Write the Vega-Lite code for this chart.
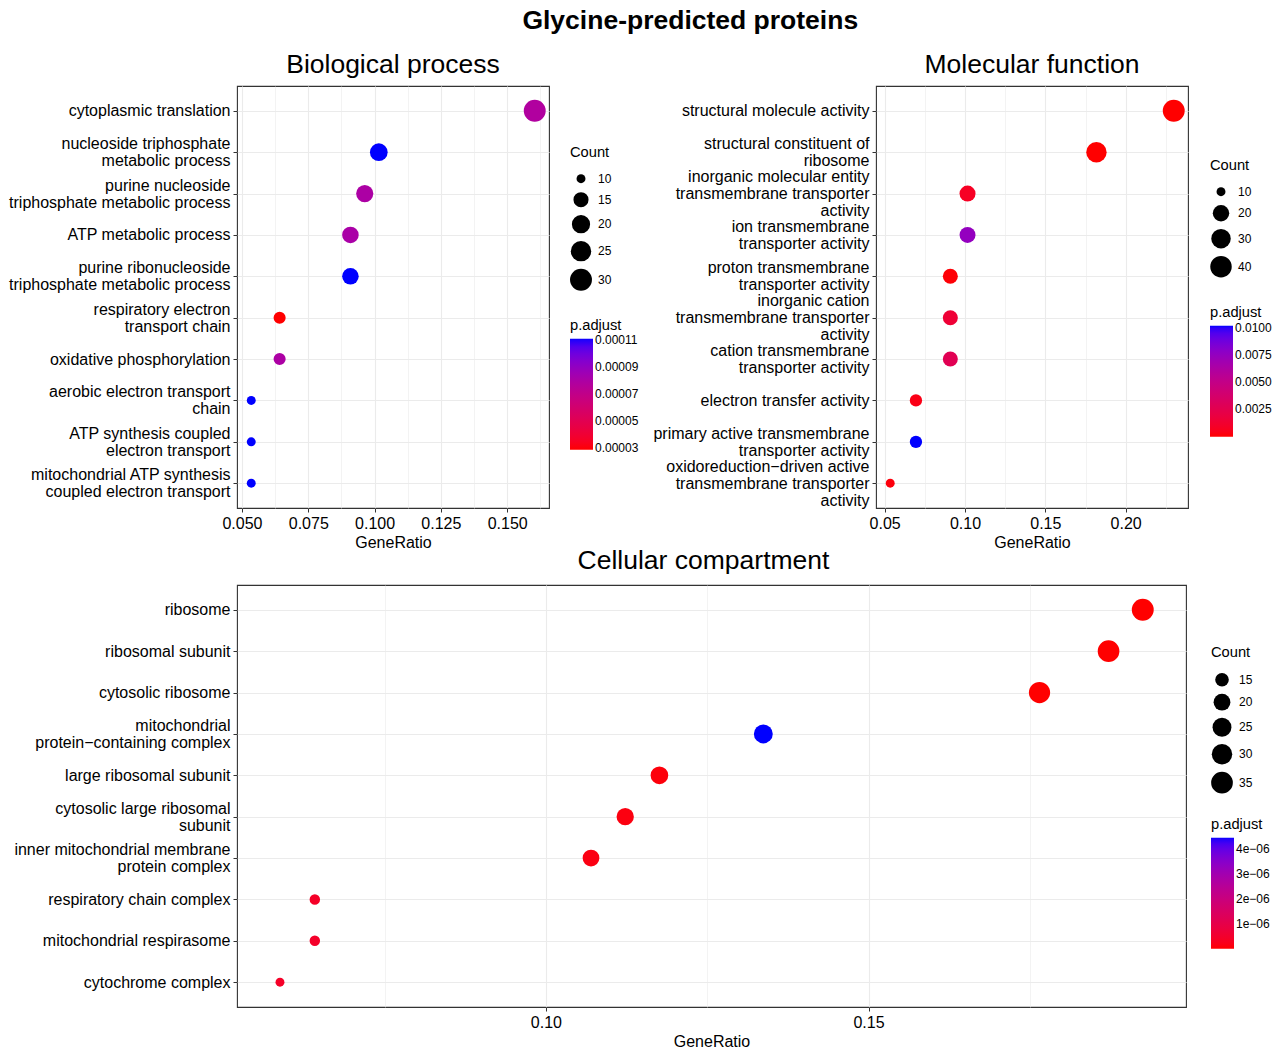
{
  "$schema": "https://vega.github.io/schema/vega-lite/v6.json",
  "title": {"text": "Glycine-predicted proteins", "fontSize": 26.5, "fontWeight": "bold", "anchor": "middle", "dx": 50, "offset": 16},
  "padding": {"left": 7, "top": 8, "right": 0, "bottom": 0},
  "datasets": {
    "bp": [
      {"Description": "cytoplasmic translation", "GeneRatio": 0.1604, "Count": 30, "padj": 0.000078},
      {"Description": "nucleoside triphosphate\nmetabolic process", "GeneRatio": 0.1016, "Count": 19, "padj": 0.000111},
      {"Description": "purine nucleoside\ntriphosphate metabolic process", "GeneRatio": 0.0963, "Count": 18, "padj": 0.00008},
      {"Description": "ATP metabolic process", "GeneRatio": 0.0909, "Count": 17, "padj": 0.000081},
      {"Description": "purine ribonucleoside\ntriphosphate metabolic process", "GeneRatio": 0.0909, "Count": 17, "padj": 0.000111},
      {"Description": "respiratory electron\ntransport chain", "GeneRatio": 0.0642, "Count": 12, "padj": 0.0000288},
      {"Description": "oxidative phosphorylation", "GeneRatio": 0.0642, "Count": 12, "padj": 0.00008},
      {"Description": "aerobic electron transport\nchain", "GeneRatio": 0.0535, "Count": 10, "padj": 0.000111},
      {"Description": "ATP synthesis coupled\nelectron transport", "GeneRatio": 0.0535, "Count": 10, "padj": 0.000111},
      {"Description": "mitochondrial ATP synthesis\ncoupled electron transport", "GeneRatio": 0.0535, "Count": 10, "padj": 0.000111}
    ],
    "mf": [
      {"Description": "structural molecule activity", "GeneRatio": 0.2299, "Count": 43, "padj": 0.0000001},
      {"Description": "structural constituent of\nribosome", "GeneRatio": 0.1818, "Count": 34, "padj": 0.0000001},
      {"Description": "inorganic molecular entity\ntransmembrane transporter\nactivity", "GeneRatio": 0.1016, "Count": 19, "padj": 0.0008},
      {"Description": "ion transmembrane\ntransporter activity", "GeneRatio": 0.1016, "Count": 19, "padj": 0.0075},
      {"Description": "proton transmembrane\ntransporter activity", "GeneRatio": 0.0909, "Count": 17, "padj": 0.0001},
      {"Description": "inorganic cation\ntransmembrane transporter\nactivity", "GeneRatio": 0.0909, "Count": 17, "padj": 0.0015},
      {"Description": "cation transmembrane\ntransporter activity", "GeneRatio": 0.0909, "Count": 17, "padj": 0.0027},
      {"Description": "electron transfer activity", "GeneRatio": 0.0695, "Count": 13, "padj": 0.0004},
      {"Description": "primary active transmembrane\ntransporter activity", "GeneRatio": 0.0695, "Count": 13, "padj": 0.0102},
      {"Description": "oxidoreduction−driven active\ntransmembrane transporter\nactivity", "GeneRatio": 0.0535, "Count": 10, "padj": 0.0002}
    ],
    "cc": [
      {"Description": "ribosome", "GeneRatio": 0.1925, "Count": 36, "padj": 0.000000001},
      {"Description": "ribosomal subunit", "GeneRatio": 0.1872, "Count": 35, "padj": 0.000000001},
      {"Description": "cytosolic ribosome", "GeneRatio": 0.1765, "Count": 33, "padj": 0.000000002},
      {"Description": "mitochondrial\nprotein−containing complex", "GeneRatio": 0.1337, "Count": 25, "padj": 0.00000445},
      {"Description": "large ribosomal subunit", "GeneRatio": 0.1176, "Count": 22, "padj": 0.00000008},
      {"Description": "cytosolic large ribosomal\nsubunit", "GeneRatio": 0.1123, "Count": 21, "padj": 0.00000012},
      {"Description": "inner mitochondrial membrane\nprotein complex", "GeneRatio": 0.107, "Count": 20, "padj": 0.00000015},
      {"Description": "respiratory chain complex", "GeneRatio": 0.0642, "Count": 12, "padj": 0.0000004},
      {"Description": "mitochondrial respirasome", "GeneRatio": 0.0642, "Count": 12, "padj": 0.00000045},
      {"Description": "cytochrome complex", "GeneRatio": 0.0588, "Count": 11, "padj": 0.00000042}
    ]
  },
  "vconcat": [
    {
      "hconcat": [
        {
          "title": {"text": "Biological process"},
          "width": 312, "height": 422,
          "data": {"name": "bp"},
          "mark": {"type": "circle", "opacity": 1},
          "encoding": {
            "x": {"field": "GeneRatio", "type": "quantitative",
              "scale": {"domain": [0.04813, 0.16578], "nice": false, "zero": false},
              "axis": {"title": "GeneRatio",
                "values": [0.05, 0.0625, 0.075, 0.0875, 0.1, 0.1125, 0.125, 0.1375, 0.15, 0.1625],
                "labelExpr": "abs(datum.value*40 - round(datum.value*40)) < 0.001 ? format(datum.value, '.3f') : ''",
                "tickOpacity": {"condition": {"test": "abs(datum.value*40 - round(datum.value*40)) < 0.001", "value": 1}, "value": 0},
                "gridWidth": {"condition": {"test": "abs(datum.value*40 - round(datum.value*40)) < 0.001", "value": 1.1}, "value": 0.6}}},
            "y": {"field": "Description", "type": "nominal", "sort": null,
              "scale": {"type": "point", "padding": 0.6},
              "axis": {"title": null, "labelExpr": "split(datum.value, '\\n')", "minExtent": 227, "maxExtent": 227,
                "labelOffset": {"condition": [{"test": "length(split(datum.value, '\\n')) == 3", "value": -17}, {"test": "length(split(datum.value, '\\n')) == 2", "value": -8.5}], "value": 0}}},
            "size": {"field": "Count", "type": "quantitative",
              "scale": {"type": "log", "domain": [10, 30], "range": [80, 480]},
              "legend": {"title": "Count", "values": [10, 15, 20, 25, 30], "orient": "none", "legendX": 333, "legendY": 59, "titlePadding": 13}},
            "color": {"field": "padj", "type": "quantitative",
              "scale": {"range": ["#FF0000", "#0000FF"], "interpolate": "lab", "nice": false, "zero": false, "domain": [0.0000288, 0.000111]},
              "legend": {"title": "p.adjust", "values": [0.00003, 0.00005, 0.00007, 0.00009, 0.00011], "format": ".5f", "orient": "none", "legendX": 333, "legendY": 232}}
          }
        },
        {
          "title": {"text": "Molecular function"},
          "width": 312, "height": 422,
          "data": {"name": "mf"},
          "mark": {"type": "circle", "opacity": 1},
          "encoding": {
            "x": {"field": "GeneRatio", "type": "quantitative",
              "scale": {"domain": [0.04465, 0.23877], "nice": false, "zero": false},
              "axis": {"title": "GeneRatio",
                "values": [0.05, 0.075, 0.1, 0.125, 0.15, 0.175, 0.2, 0.225],
                "labelExpr": "abs(datum.value*20 - round(datum.value*20)) < 0.001 ? format(datum.value, '.2f') : ''",
                "tickOpacity": {"condition": {"test": "abs(datum.value*20 - round(datum.value*20)) < 0.001", "value": 1}, "value": 0},
                "gridWidth": {"condition": {"test": "abs(datum.value*20 - round(datum.value*20)) < 0.001", "value": 1.1}, "value": 0.6}}},
            "y": {"field": "Description", "type": "nominal", "sort": null,
              "scale": {"type": "point", "padding": 0.6},
              "axis": {"title": null, "labelExpr": "split(datum.value, '\\n')", "minExtent": 222, "maxExtent": 222,
                "labelOffset": {"condition": [{"test": "length(split(datum.value, '\\n')) == 3", "value": -17}, {"test": "length(split(datum.value, '\\n')) == 2", "value": -8.5}], "value": 0}}},
            "size": {"field": "Count", "type": "quantitative",
              "scale": {"type": "log", "domain": [10, 43], "range": [80, 480]},
              "legend": {"title": "Count", "values": [10, 20, 30, 40], "orient": "none", "legendX": 334, "legendY": 72, "titlePadding": 13}},
            "color": {"field": "padj", "type": "quantitative",
              "scale": {"range": ["#FF0000", "#0000FF"], "interpolate": "lab", "nice": false, "zero": false, "domain": [0, 0.0102]},
              "legend": {"title": "p.adjust", "values": [0.0025, 0.005, 0.0075, 0.01], "format": ".4f", "orient": "none", "legendX": 334, "legendY": 219}}
          }
        }
      ],
      "spacing": 12,
      "resolve": {"scale": {"color": "independent", "size": "independent", "x": "independent", "y": "independent"}, "legend": {"color": "independent", "size": "independent"}}
    },
    {
      "title": {"text": "Cellular compartment", "dx": -8, "offset": 11},
      "width": 949, "height": 422,
      "data": {"name": "cc"},
      "mark": {"type": "circle", "opacity": 1},
      "encoding": {
        "x": {"field": "GeneRatio", "type": "quantitative",
          "scale": {"domain": [0.05214, 0.1992], "nice": false, "zero": false},
          "axis": {"title": "GeneRatio",
            "values": [0.075, 0.1, 0.125, 0.15, 0.175],
            "labelExpr": "abs(datum.value*20 - round(datum.value*20)) < 0.001 ? format(datum.value, '.2f') : ''",
            "tickOpacity": {"condition": {"test": "abs(datum.value*20 - round(datum.value*20)) < 0.001", "value": 1}, "value": 0},
            "gridWidth": {"condition": {"test": "abs(datum.value*20 - round(datum.value*20)) < 0.001", "value": 1.1}, "value": 0.6}}},
        "y": {"field": "Description", "type": "nominal", "sort": null,
          "scale": {"type": "point", "padding": 0.6},
          "axis": {"title": null, "labelExpr": "split(datum.value, '\\n')", "minExtent": 227, "maxExtent": 227,
            "labelOffset": {"condition": [{"test": "length(split(datum.value, '\\n')) == 3", "value": -17}, {"test": "length(split(datum.value, '\\n')) == 2", "value": -8.5}], "value": 0}}},
        "size": {"field": "Count", "type": "quantitative",
          "scale": {"type": "log", "domain": [11, 36], "range": [80, 480]},
          "legend": {"title": "Count", "values": [15, 20, 25, 30, 35], "orient": "none", "legendX": 974, "legendY": 60, "titlePadding": 13}},
        "color": {"field": "padj", "type": "quantitative",
          "scale": {"range": ["#FF0000", "#0000FF"], "interpolate": "lab", "nice": false, "zero": false, "domain": [0, 0.00000445]},
          "legend": {"title": "p.adjust", "values": [0.000001, 0.000002, 0.000003, 0.000004], "labelExpr": "replace(format(datum.value, '.0e'), 'e-', 'e−0')", "orient": "none", "legendX": 974, "legendY": 232}}
      }
    }
  ],
  "spacing": -5,
  "resolve": {"scale": {"color": "independent", "size": "independent", "x": "independent", "y": "independent"}, "legend": {"color": "independent", "size": "independent"}},
  "config": {
    "font": "Liberation Sans",
    "view": {"stroke": "#333333", "strokeWidth": 1.1},
    "axis": {"domain": false, "labelColor": "black", "labelFontSize": 16, "labelLineHeight": 17, "labelLimit": 0, "titleFontSize": 16, "titleFontWeight": "normal", "titleColor": "black", "tickColor": "#333333", "tickSize": 4, "labelPadding": 3, "titlePadding": 3, "gridColor": "#EBEBEB", "gridWidth": 1.1, "grid": true},
    "legend": {"titleFontWeight": "normal", "titleFontSize": 14.7, "labelFontSize": 12, "titleColor": "black", "labelColor": "black", "padding": 0, "titlePadding": 6, "gradientLength": 111, "gradientThickness": 23, "gradientStrokeWidth": 0, "labelOffset": 6, "symbolType": "circle", "symbolFillColor": "black", "symbolStrokeWidth": 0, "symbolOpacity": 1, "rowPadding": 7},
    "title": {"fontSize": 26.5, "fontWeight": "normal", "color": "black", "offset": 8}
  }
}
